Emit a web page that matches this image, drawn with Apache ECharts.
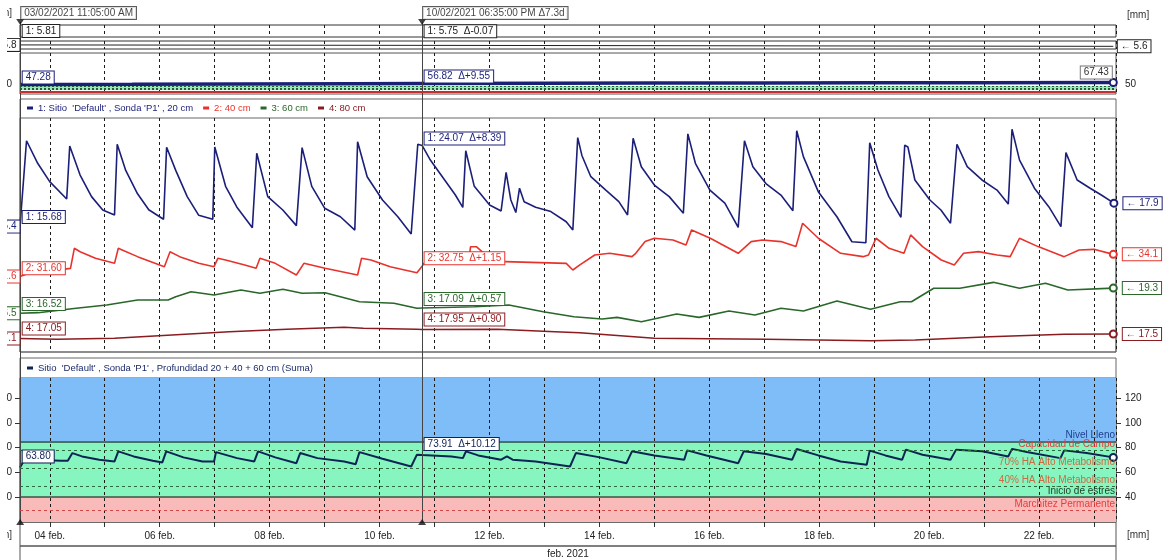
<!DOCTYPE html>
<html><head><meta charset="utf-8">
<script src="https://cdn.jsdelivr.net/npm/echarts@6/dist/echarts.min.js"></script>
<style>html,body{margin:0;padding:0;background:#fff}#c{width:1164px;height:560px}</style>
</head><body><div id="c"></div>
<script>
// ---------- DATA ----------
const cursorTimes = ['2021-02-03 11:05', '2021-02-10 18:35'];
const axisRange = ['2021-02-03 11:00', '2021-02-23 09:36'];
const monthLabel = 'feb. 2021';
const unitLabel = '[mm]';
const legendNamesD = ["1: Sitio  'Default' , Sonda 'P1' , 20 cm", '2: 40 cm', '3: 60 cm', '4: 80 cm'];
const legendNameE = "Sitio  'Default' , Sonda 'P1' , Profundidad 20 + 40 + 60 cm (Suma)";
const bandNames = ['Nivel Lleno', 'Capacidad de Campo', '70% HA Alto Metabolismo', '40% HA Alto Metabolismo', 'Inicio de estres', 'Marchitez Permanente'];
const bandValues = [85, 78, 63, 48.5, 40, 29];
const zoneLimits = [19.5, 40, 85, 136.5];
const sumTicks = [40, 60, 80, 100, 120];
const miniTicks = [50];
// points: [day of February (fractional), value]
const rain = [[3.4584,5.814],[3.4618,5.814],[7,5.78],[10.7743,5.746],[15,5.70],[19,5.65],[23.351,5.60]];
const total = [[3.4584,47.2],[3.4618,47.276],[5.5,49.5],[7.5,52.0],[9.5,54.8],[10.7743,56.824],[13,59.5],[15,61.8],[17,63.7],[19,65.3],[21,66.5],[23.351,67.43]];
const cm20 = [[3.4584,15.40],[3.4618,15.68],[3.577,24.57],[3.780,22.16],[3.999,20.20],[4.308,18.35],[4.363,24.00],[4.552,20.90],[4.760,18.60],[4.964,17.17],[5.178,16.64],[5.227,24.20],[5.382,21.40],[5.597,18.90],[5.801,17.20],[6.070,16.18],[6.126,23.87],[6.292,21.40],[6.501,18.60],[6.711,16.60],[6.966,16.18],[7.002,23.90],[7.199,19.70],[7.402,17.50],[7.686,15.28],[7.766,23.23],[7.966,18.60],[8.240,17.17],[8.487,15.50],[8.591,23.83],[8.767,19.70],[9.004,17.35],[9.288,16.45],[9.550,15.03],[9.601,24.47],[9.775,20.73],[10.054,18.24],[10.333,16.45],[10.576,14.60],[10.696,24.20],[10.7743,24.07],[10.915,22.60],[11.097,21.10],[11.377,18.80],[11.515,17.45],[11.569,23.50],[11.724,19.70],[12.003,17.70],[12.212,17.07],[12.303,21.20],[12.389,18.24],[12.480,16.90],[12.547,19.50],[12.631,18.06],[12.840,17.46],[13.117,17.00],[13.397,15.92],[13.517,15.03],[13.606,24.90],[13.682,23.00],[13.845,20.73],[14.117,19.30],[14.354,18.06],[14.513,16.64],[14.614,24.83],[14.763,21.80],[15.000,19.84],[15.271,18.60],[15.528,16.82],[15.610,25.30],[15.747,22.16],[16.011,19.30],[16.283,17.90],[16.526,15.32],[16.640,24.57],[16.793,21.80],[17.030,20.00],[17.303,18.77],[17.521,17.10],[17.591,25.64],[17.712,22.87],[17.983,19.13],[18.322,16.45],[18.595,13.78],[18.849,13.68],[18.919,24.36],[19.068,21.44],[19.268,18.60],[19.487,16.39],[19.556,24.10],[19.614,23.90],[19.741,20.38],[20.014,18.24],[20.214,17.17],[20.389,15.75],[20.506,24.20],[20.693,21.80],[20.961,20.38],[21.235,19.30],[21.440,17.80],[21.508,25.80],[21.645,22.50],[21.916,19.50],[22.180,17.50],[22.398,15.39],[22.489,23.30],[22.693,20.38],[22.929,19.50],[23.133,18.77],[23.362,17.90]];
const cm40 = [[3.4584,31.58],[3.4618,31.60],[3.599,31.90],[4.377,32.51],[4.447,34.79],[4.552,34.40],[4.831,33.65],[5.178,33.08],[5.247,34.79],[5.318,34.60],[5.597,33.84],[6.085,32.70],[6.188,34.40],[6.363,33.84],[6.711,33.08],[6.989,32.70],[7.058,33.65],[7.199,33.46],[7.548,32.89],[7.755,32.51],[7.824,33.65],[8.103,33.08],[8.487,31.75],[8.624,33.08],[9.009,32.51],[9.601,31.75],[9.672,33.65],[9.844,33.46],[10.194,32.70],[10.680,32.01],[10.7743,32.75],[10.806,33.08],[11.621,33.15],[11.656,34.97],[11.761,34.97],[11.865,34.40],[12.283,33.27],[13.397,33.08],[13.517,32.32],[13.645,32.90],[13.916,34.03],[14.187,34.22],[14.593,33.84],[14.662,34.22],[14.832,35.55],[15.001,35.93],[15.339,35.74],[15.576,35.17],[15.678,36.88],[16.018,35.93],[16.357,34.79],[16.526,34.22],[16.762,35.55],[16.966,35.74],[17.305,35.55],[17.576,34.98],[17.698,37.64],[17.984,35.93],[18.390,34.22],[18.797,33.84],[18.897,34.03],[19.034,35.93],[19.271,34.79],[19.542,34.22],[19.664,36.31],[19.880,34.98],[20.221,33.46],[20.457,32.89],[20.626,34.22],[20.898,34.41],[21.236,34.03],[21.475,33.84],[21.644,35.93],[21.982,34.98],[22.457,33.84],[22.729,34.60],[23.000,34.67],[23.351,34.10]];
const cm60 = [[3.4584,16.50],[3.4618,16.52],[3.786,16.57],[4.481,17.06],[5.036,17.42],[5.597,17.98],[6.154,17.98],[6.292,18.35],[6.572,18.90],[6.989,18.53],[7.477,19.09],[7.824,18.72],[8.243,19.17],[8.591,18.72],[9.009,18.79],[9.635,17.79],[10.263,17.61],[10.680,17.06],[10.7743,17.09],[11.727,17.23],[12.353,17.42],[12.979,16.68],[13.536,16.12],[14.051,15.87],[14.322,16.05],[14.764,15.57],[15.406,16.42],[15.814,16.05],[16.357,16.76],[16.830,16.31],[17.305,17.06],[17.713,16.76],[18.323,17.87],[18.932,16.94],[19.474,17.79],[19.678,17.79],[20.084,19.28],[20.559,19.28],[21.169,19.94],[21.644,19.28],[22.117,19.83],[22.523,19.09],[23.351,19.30]];
const cm80 = [[3.4584,17.05],[3.4618,17.05],[4.134,16.97],[5.178,17.07],[6.223,17.40],[7.268,17.73],[8.312,17.97],[9.357,18.17],[9.706,18.07],[10.680,17.97],[10.7743,17.95],[12.143,17.97],[13.190,17.73],[13.645,17.63],[15.001,17.07],[17.033,16.97],[18.932,16.83],[19.746,16.90],[21.101,17.23],[22.457,17.47],[23.351,17.50]];
const sum = [[3.4584,63.70],[3.4618,63.796],[3.544,70.5],[4.203,69.3],[4.328,69.3],[4.412,75.5],[4.587,72.8],[4.900,70.1],[5.178,68.7],[5.247,76.9],[5.526,72.8],[5.875,69.3],[6.048,67.9],[6.119,76.9],[6.432,72.0],[6.780,68.7],[6.989,68.7],[7.024,76.3],[7.408,71.4],[7.721,68.7],[7.790,76.9],[8.103,72.0],[8.487,67.3],[8.556,75.5],[8.869,71.4],[9.357,68.7],[9.566,66.5],[9.635,76.3],[10.054,70.9],[10.576,64.6],[10.680,74.2],[10.7743,73.914],[11.308,72.8],[11.517,71.4],[11.572,76.9],[11.796,73.6],[12.212,70.1],[12.318,72.8],[12.422,70.1],[12.840,68.7],[13.466,64.6],[13.572,75.5],[14.009,72.0],[14.493,67.3],[14.593,76.9],[15.001,73.6],[15.543,70.1],[15.597,77.7],[15.949,73.6],[16.526,67.3],[16.627,76.9],[17.033,74.7],[17.508,70.1],[17.591,78.8],[17.984,73.6],[18.390,68.7],[18.864,66.0],[18.919,77.5],[19.203,73.6],[19.509,70.1],[19.577,78.3],[19.880,74.2],[20.389,70.1],[20.491,78.3],[20.965,76.9],[21.440,72.8],[21.508,78.9],[21.778,76.3],[22.389,71.4],[22.457,77.7],[22.863,75.5],[23.351,72.0]];

// ---------- HELPERS ----------
const FONT = "'Liberation Sans', Arial, 'DejaVu Sans', sans-serif";
const DAY = 864e5;
const BASE = new Date(2021, 1, 0).getTime();
const toT = d => BASE + d * DAY;
function parseT(s){const [a,b]=s.split(' ');const [Y,M,D]=a.split('-').map(Number);const [h,m]=b.split(':').map(Number);return new Date(Y,M-1,D,h,m).getTime();}
const cT = cursorTimes.map(parseT);
const xMin = parseT(axisRange[0]), xMax = parseT(axisRange[1]);
const near = (pairs, t) => {let bi=0,bd=Infinity;pairs.forEach((p,i)=>{const d=Math.abs(toT(p[0])-t);if(d<bd){bd=d;bi=i;}});return bi;};
const pad = n => String(n).padStart(2,'0');
function fmtDate(t){const d=new Date(t);let h=d.getHours();const ap=h>=12?'PM':'AM';h=h%12;if(h===0)h=12;
  return pad(d.getDate())+'/'+pad(d.getMonth()+1)+'/'+d.getFullYear()+' '+pad(h)+':'+pad(d.getMinutes())+':'+pad(d.getSeconds())+' '+ap;}
const sgn = x => (x>=0?'+':'') + x.toFixed(2);
const cursorLabels = [fmtDate(cT[0]), fmtDate(cT[1]) + ' Δ' + ((cT[1]-cT[0])/DAY).toFixed(1) + 'd'];

function tag(coord, text, color, pos, offset, extra){
  return {coord, symbol:'rect', symbolSize:1, itemStyle:{color:'rgba(0,0,0,0)'},
    label:Object.assign({show:true, formatter:text, position:pos, distance:2, offset, color, fontSize:10, fontFamily:FONT,
      backgroundColor:'#fff', borderColor:color, borderWidth:1, padding:[1,3]}, extra||{})};
}
function endMark(coord, text, color){
  return {coord, symbol:'emptyCircle', symbolSize:7, itemStyle:{color, borderWidth:1.5},
    label: text ? {show:true, formatter:text, position:'right', distance:5, color, fontSize:10, fontFamily:FONT,
      backgroundColor:'#fff', borderColor:color, borderWidth:1, padding:[1,3]} : {show:false}};
}
function cursorTags(pairs, data, prefix, color, off){
  const i1 = near(pairs, cT[0]), i2 = near(pairs, cT[1]);
  const v1 = pairs[i1][1], v2 = pairs[i2][1];
  return [tag(data[i1], prefix + v1.toFixed(2), color, 'right', off),
          tag(data[i2], prefix + v2.toFixed(2) + '  Δ' + sgn(v2 - v1), color, 'right', off)];
}
function lineSeries(name, pairs, color, xi, yi, width, prefix, off, opts){
  const data = pairs.map(p => [toT(p[0]), p[1]]);
  const mp = cursorTags(pairs, data, prefix, color, off);
  const last = pairs[pairs.length-1];
  if (opts.left) mp.push(tag(data[0], pairs[0][1].toFixed(1), color, 'left', [0,0], {distance:0}));
  if (opts.end) mp.push(endMark(data[data.length-1], opts.endText ? '← ' + last[1].toFixed(1) : '', color));
  if (opts.endTag) mp.push(tag(data[data.length-1], last[1].toFixed(2), opts.endTag, 'left', [0,-10], {color:'#333', distance:1}));
  if (opts.endArrow) mp.push(tag(data[data.length-1], '← ' + last[1].toFixed(1), '#222', 'right', [0,0], {distance:4}));
  return {type:'line', name, xAxisIndex:xi, yAxisIndex:yi, data, symbol:'none', showSymbol:false, silent:true, z:3,
    lineStyle:{color, width}, itemStyle:{color},
    markPoint:{silent:true, animation:false, data:mp}};
}

// ---------- AXES ----------
const L = 20, R = 48;
const G = (o) => Object.assign({left:L, right:R, outerBoundsMode:'none', containLabel:false}, o);
function xAx(gi, extra){
  return Object.assign({type:'time', gridIndex:gi, min:xMin, max:xMax, minInterval:DAY, maxInterval:DAY,
    axisLine:{show:false}, axisTick:{show:false}, axisLabel:{show:false},
    splitLine:{show:true, lineStyle:{color:'#1a1a1a', width:1, type:[3,3]}}}, extra||{});
}
const hiddenY = (gi, min, max) => ({type:'value', gridIndex:gi, min, max, show:false, splitLine:{show:false}});
const labY = (gi, min, max, pos, vals, extra) => Object.assign({type:'value', gridIndex:gi, position:pos, min, max,
  axisLine:{show:false}, splitLine:{show:false},
  axisTick:{show:false},
  axisLabel:{show:true, customValues:vals, margin:pos==='right'?9:8, fontSize:10, color:'#222', fontFamily:FONT}}, extra||{});

const navy = '#1b1f78', red = '#e8332c', green = '#2a672a', maroon = '#8a1c20', sumColor = '#0e2452';

const option = {
  animation:false,
  backgroundColor:'#fff',
  textStyle:{fontFamily:FONT, fontSize:10},
  graphic:[
    {type:'text', x:12, y:13, z:50, style:{text:unitLabel, align:'right', verticalAlign:'middle', fill:'#333', font:'10px ' + FONT}},
    {type:'text', x:12, y:535, z:50, style:{text:unitLabel, align:'right', verticalAlign:'middle', fill:'#333', font:'10px ' + FONT}},
    {type:'rect', shape:{x:0, y:0, width:7, height:560}, style:{fill:'#fff'}, z:100, silent:true}
  ],
  grid:[
    G({top:22, bottom:38, show:false}),
    G({top:25, height:12, show:true, borderColor:'#333', borderWidth:1}),
    G({top:41, height:8, show:true, borderColor:'#333', borderWidth:1}),
    G({top:53, height:41, show:true, borderColor:'#555', borderWidth:1}),
    G({top:99, height:253, show:true, borderColor:'#666', borderWidth:1}),
    G({top:118, height:234, show:true, borderColor:'#666', borderWidth:1}),
    G({top:358, height:164, show:true, borderColor:'#666', borderWidth:1}),
    G({top:378, height:144, show:true, borderColor:'#555', borderWidth:1}),
    G({top:522, height:24, show:true, borderColor:'#555', borderWidth:1}),
    G({top:546, height:30, show:true, borderColor:'#555', borderWidth:1})
  ],
  xAxis:[
    xAx(0, {splitLine:{show:false}}),
    xAx(1), xAx(2), xAx(3), xAx(5),
    xAx(7, {z:1.5,
      axisTick:{show:true, length:5, lineStyle:{color:'#333'}},
      axisLabel:{show:true, margin:9, fontSize:10, color:'#222', fontFamily:FONT,
        formatter: v => { const d = new Date(v); const day = d.getDate();
          return (d.getHours()===0 && d.getMinutes()===0 && day % 2 === 0) ? pad(day) + ' feb.' : ''; }},
      name: monthLabel, nameLocation:'middle', nameGap:27, nameTextStyle:{fontSize:10, color:'#222'}})
  ],
  yAxis:[
    hiddenY(0, 0, 1),
    {type:'value', gridIndex:1, position:'right', min:0, max:1, axisLine:{show:false}, axisTick:{show:false}, axisLabel:{show:false}, splitLine:{show:false},
      name:unitLabel, nameLocation:'end', nameGap:5, nameTextStyle:{align:'left', padding:[0,0,0,11], fontSize:10, color:'#333'}},
    hiddenY(1, 0, 1),
    hiddenY(2, 5.2, 6.4),
    labY(3, -50, 370, 'right', miniTicks),
    labY(3, -50, 370, 'left', miniTicks),
    hiddenY(5, 2, 27),
    hiddenY(5, 23, 49.6),
    hiddenY(5, 12.2, 38.2),
    hiddenY(5, 15.7, 39.1),
    labY(7, zoneLimits[0], zoneLimits[3], 'right', sumTicks, {axisTick:{show:true, customValues:sumTicks, length:5, lineStyle:{color:'#333'}},
      name:unitLabel, nameLocation:'start', nameGap:8, nameTextStyle:{align:'left', padding:[0,0,0,11], fontSize:10, color:'#333'}}),
    labY(7, zoneLimits[0], zoneLimits[3], 'left', sumTicks, {axisTick:{show:true, customValues:sumTicks, length:5, lineStyle:{color:'#333'}}})
  ],
  legend:[
    {top:103, left:27, padding:0, itemWidth:6, itemHeight:3, itemGap:10, icon:'rect', selectedMode:false,
      textStyle:{fontSize:9.5, fontFamily:FONT},
      data:[{name:legendNamesD[0], textStyle:{color:navy}}, {name:legendNamesD[1], textStyle:{color:red}},
            {name:legendNamesD[2], textStyle:{color:green}}, {name:legendNamesD[3], textStyle:{color:maroon}}]},
    {top:363, left:27, padding:0, itemWidth:6, itemHeight:3, icon:'rect', selectedMode:false,
      textStyle:{fontSize:9.5, fontFamily:FONT}, data:[{name:legendNameE, textStyle:{color:'#1b2a6a'}}]}
  ],
  series:[
    // cursors
    {type:'scatter', xAxisIndex:0, yAxisIndex:0, z:10, silent:true,
      data: cT.map((t,i) => ({value:[t,1], label:{formatter:cursorLabels[i]}})),
      symbol:'triangle', symbolRotate:180, symbolSize:[8,6], itemStyle:{color:'#111'},
      label:{show:true, position:'top', align:'left', distance:0, offset:[1,0], backgroundColor:'#fff', borderColor:'#333', borderWidth:1, padding:[1,3], fontSize:10, color:'#111'},
      markLine:{silent:true, animation:false, symbol:['none','none'], label:{show:false}, lineStyle:{color:'#444', width:1, type:'solid'}, data:cT.map(t => ({xAxis:t}))}},
    {type:'scatter', xAxisIndex:0, yAxisIndex:0, z:10, silent:true, data:cT.map(t => [t,0]),
      symbol:'triangle', symbolSize:[8,6], itemStyle:{color:'#111'}},
    // strip B
    lineSeries('rain', rain, '#222', 2, 3, 1, '1: ', [0,-14], {left:true, endArrow:true}),
    // strip C bands
    {type:'line', xAxisIndex:3, yAxisIndex:4, data:[], z:1, silent:true,
      markArea:{silent:true, data:[[{yAxis:-8, itemStyle:{color:'#8ef0b4'}}, {yAxis:33}]]},
      markLine:{silent:true, symbol:['none','none'], label:{show:false},
        data:[{yAxis:26, lineStyle:{color:'#2b5b3b', type:[2,2], width:1}}, {yAxis:14, lineStyle:{color:'#2b5b3b', type:[2,2], width:1}},
              {yAxis:2, lineStyle:{color:'#2b5b3b', type:[2,2], width:1}}, {yAxis:-22, lineStyle:{color:'#c43030', type:'solid', width:2}}]}},
    lineSeries('total', total, navy, 3, 4, 3.5, '', [0,-7], {end:true, endTag:'#777'}),
    // panel D
    lineSeries(legendNamesD[0], cm20, navy, 4, 6, 1.6, '1: ', [0,-7], {left:true, end:true, endText:true}),
    lineSeries(legendNamesD[1], cm40, red, 4, 7, 1.6, '2: ', [0,-8], {left:true, end:true, endText:true}),
    lineSeries(legendNamesD[2], cm60, green, 4, 8, 1.6, '3: ', [0,-9], {left:true, end:true, endText:true}),
    lineSeries(legendNamesD[3], cm80, maroon, 4, 9, 1.6, '4: ', [0,-10], {left:true, end:true, endText:true}),
    // panel E bands
    {type:'line', xAxisIndex:5, yAxisIndex:10, data:[], z:1, silent:true,
      markArea:{silent:true, data:[
        [{yAxis:zoneLimits[2], itemStyle:{color:'#7fbdf8'}}, {yAxis:zoneLimits[3]}],
        [{yAxis:zoneLimits[1], itemStyle:{color:'#86f5c0'}}, {yAxis:zoneLimits[2]}],
        [{yAxis:zoneLimits[0], itemStyle:{color:'#f9baba'}}, {yAxis:zoneLimits[1]}]]},
      markLine:{silent:true, symbol:['none','none'],
        data: bandValues.map((v,i) => {
          const styles = [
            {c:'#2d4a46', t:'solid', w:1.5, lc:'#1f3f8f'},
            {c:'#2c6a3a', t:[3,3], w:1, lc:'#e23c3c'},
            {c:'#2c6a3a', t:[3,3], w:1, lc:'#cf6a40'},
            {c:'#2c6a3a', t:[3,3], w:1, lc:'#cf6a40'},
            {c:'#35553f', t:'solid', w:1.5, lc:'#1c4326'},
            {c:'#d04848', t:[3,3], w:1, lc:'#e83c3c'}][i];
          return {yAxis:v, lineStyle:{color:styles.c, type:styles.t, width:styles.w},
            label:{show:true, position:'insideEndTop', distance:1, formatter:bandNames[i], color:styles.lc, fontSize:10, fontFamily:FONT}};
        })}},
    (function(){ const s = lineSeries(legendNameE, sum, sumColor, 5, 10, 2, '', [0,-11], {end:true}); s.z = 3; return s; })()
  ]
};
const chart = echarts.init(document.getElementById('c'));
chart.setOption(option);
</script></body></html>
